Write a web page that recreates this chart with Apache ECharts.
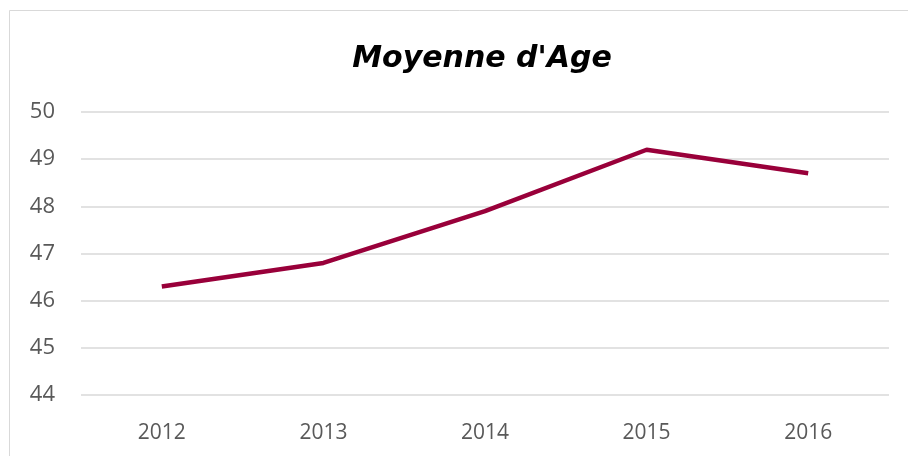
<!DOCTYPE html>
<html>
<head>
<meta charset="utf-8">
<script src="https://cdn.jsdelivr.net/npm/echarts@6/dist/echarts.min.js"></script>
<style>
html, body { margin: 0; padding: 0; background: #fff; }
#chart { width: 908px; height: 456px; }
</style>
</head>
<body>
<div id="chart"></div>
<script>
// données
var annees = ['2012', '2013', '2014', '2015', '2016'];
var moyenneAge = [46.3, 46.8, 47.9, 49.2, 48.7];

var chart = echarts.init(document.getElementById('chart'));
chart.setOption({
	animation: false,
	backgroundColor: '#fff',
	title: {
		text: "Moyenne d'Age",
		left: 477,
		textAlign: 'center',
		top: 39,
		textStyle: {
			fontFamily: '"Comic Sans MS", "DejaVu Sans", sans-serif',
			fontStyle: 'italic',
			fontWeight: 'bold',
			fontSize: 30,
			color: '#000'
		}
	},
	graphic: [{
		type: 'rect',
		shape: { x: 9.5, y: 10.5, width: 920, height: 470 },
		style: { fill: 'none', stroke: '#d9d9d9', lineWidth: 1 },
		silent: true
	}],
	grid: { left: 81, right: 19, top: 112, bottom: 61 },
	xAxis: {
		type: 'category',
		data: annees,
		boundaryGap: true,
		axisLine: { show: false },
		axisTick: { show: false },
		axisLabel: {
			margin: 28,
			fontSize: 21,
			color: '#595959',
			fontFamily: '"Open Sans", sans-serif'
		}
	},
	yAxis: {
		type: 'value',
		min: 44,
		max: 50,
		interval: 1,
		axisLine: { show: false },
		axisTick: { show: false },
		axisLabel: {
			margin: 26,
			fontSize: 22,
			color: '#595959',
			fontFamily: '"Open Sans", sans-serif'
		},
		splitLine: { lineStyle: { color: '#d9d9d9', width: 1.5 } }
	},
	series: [{
		name: "Moyenne d'Age",
		type: 'line',
		data: moyenneAge,
		symbol: 'none',
		lineStyle: { color: '#99003a', width: 4.5 },
		itemStyle: { color: '#99003a' }
	}]
});
</script>
</body>
</html>
